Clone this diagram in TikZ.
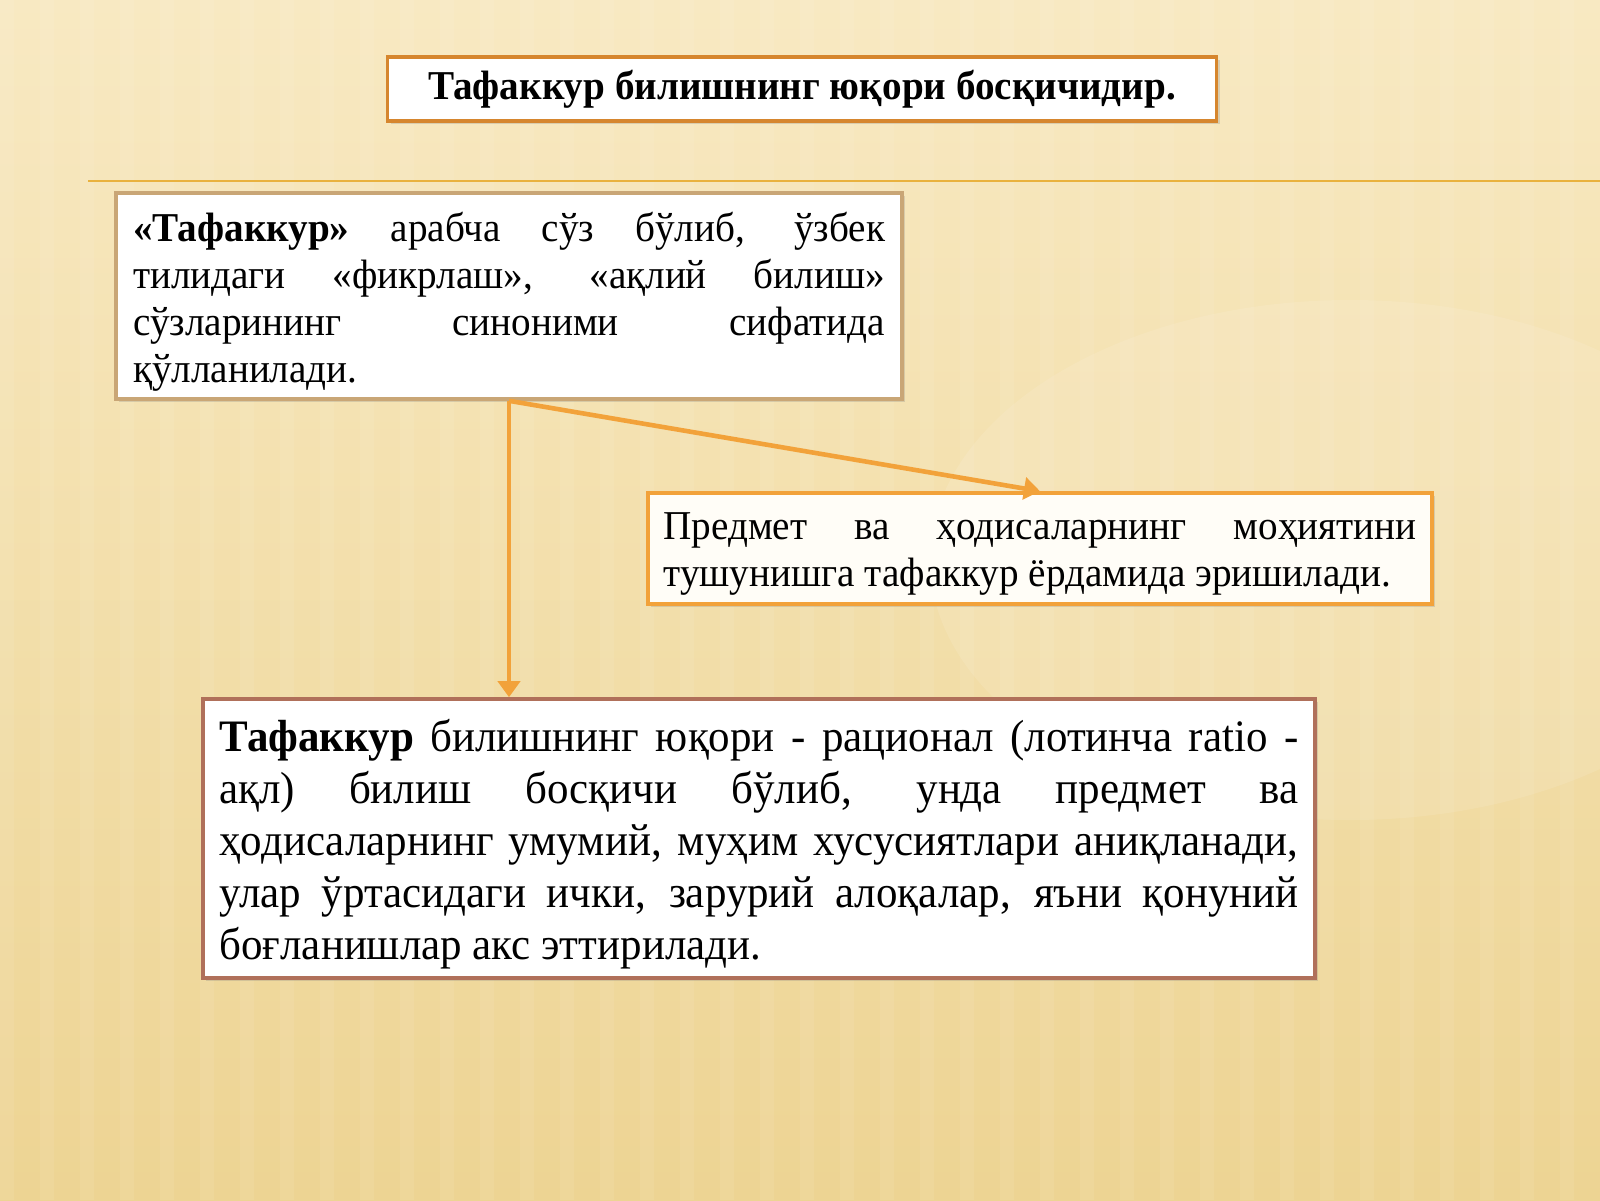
\documentclass[tikz,border=0pt]{standalone}
\usepackage{fontspec}
\setmainfont{Liberation Serif}[FakeStretch=0.955]
\usetikzlibrary{arrows.meta,shadows}
\definecolor{bgtop}{HTML}{F8E9C2}
\definecolor{bgbot}{HTML}{EDD493}
\definecolor{orangeline}{HTML}{F2A23A}
\definecolor{rulegold}{HTML}{E9B23E}
\definecolor{tanborder}{HTML}{C9A676}
\definecolor{brownborder}{HTML}{B0705A}
\definecolor{titleborder}{HTML}{D6862E}
\definecolor{cream}{HTML}{FFFDF7}
\tikzset{
  frame/.style={rectangle, fill=white, line width=1.8pt, anchor=center, inner sep=0pt,
    drop shadow={opacity=0.25, shadow xshift=1.5pt, shadow yshift=-1.5pt}},
  boxtext/.style={inner sep=0pt, align=justify, anchor=center, yshift=-2.8pt,
    font=\fontsize{20.5}{23.5}\selectfont},
  conn/.style={draw=orangeline, line width=2.3pt, -{Triangle[length=8pt,width=11pt]}},
}
\begin{document}
\begin{tikzpicture}[x=0.5pt,y=-0.5pt]
\hyphenpenalty=10000
\tolerance=9999
\useasboundingbox (0,0) rectangle (1600,1200);
\shade[top color=bgtop, bottom color=bgbot] (0,0) rectangle (1600,1200);
\fill[white, opacity=0.10] (1350,560) ellipse (420 and 260);
\foreach \i in {0,...,40} {\fill[white,opacity=0.07] (40*\i,0) rectangle (40*\i+14,1200);}
% title
\node[frame, draw=titleborder, minimum width=414.5pt, minimum height=32pt, align=center,
  font=\fontsize{20.5}{24}\selectfont\bfseries] (title) at (802,89) {Тафаккур билишнинг юқори босқичидир.};
% rule
\coordinate (r1) at (88,181);
\coordinate (r2) at (1600,181);
\draw[rulegold, line width=1.2pt] (r1) -- (r2);
% box 1
\node[frame, draw=tanborder, minimum width=393pt, minimum height=103pt] (b1) at (509,296) {};
\node[boxtext, text width=376pt] (b1t) at (b1.center)
{\textbf{«Тафаккур»} арабча сўз бўлиб, ўзбек\linebreak
 тилидаги «фикрлаш», «ақлий билиш»\linebreak
 сўзларининг синоними сифатида\linebreak
 қўлланилади.};
% box 2
\node[frame, draw=orangeline, fill=cream, minimum width=392pt, minimum height=55.5pt] (b2) at (1040,548.5) {};
\node[boxtext, text width=376.5pt] (b2t) at (b2.center)
{Предмет ва ҳодисаларнинг моҳиятини\linebreak
 тушунишга тафаккур ёрдамида эришилади.};
% box 3
\node[frame, draw=brownborder, minimum width=556pt, minimum height=139.5pt] (b3) at (759,838.5) {};
\node[boxtext, text width=539.5pt, font=\fontsize{22.5}{26}\selectfont] (b3t) at (b3.center)
{\textbf{Тафаккур} билишнинг юқори - рационал (лотинча ratio -\linebreak
 ақл) билиш босқичи бўлиб, унда предмет ва\linebreak
 ҳодисаларнинг умумий, муҳим хусусиятлари аниқланади,\linebreak
 улар ўртасидаги ички, зарурий алоқалар, яъни қонуний\linebreak
 боғланишлар акс эттирилади.};
% connectors
\draw[conn] (b1.south) -- (b1.south |- b3.north);
\draw[conn] (b1.south) -- (b2.north);
\end{tikzpicture}
\end{document}
